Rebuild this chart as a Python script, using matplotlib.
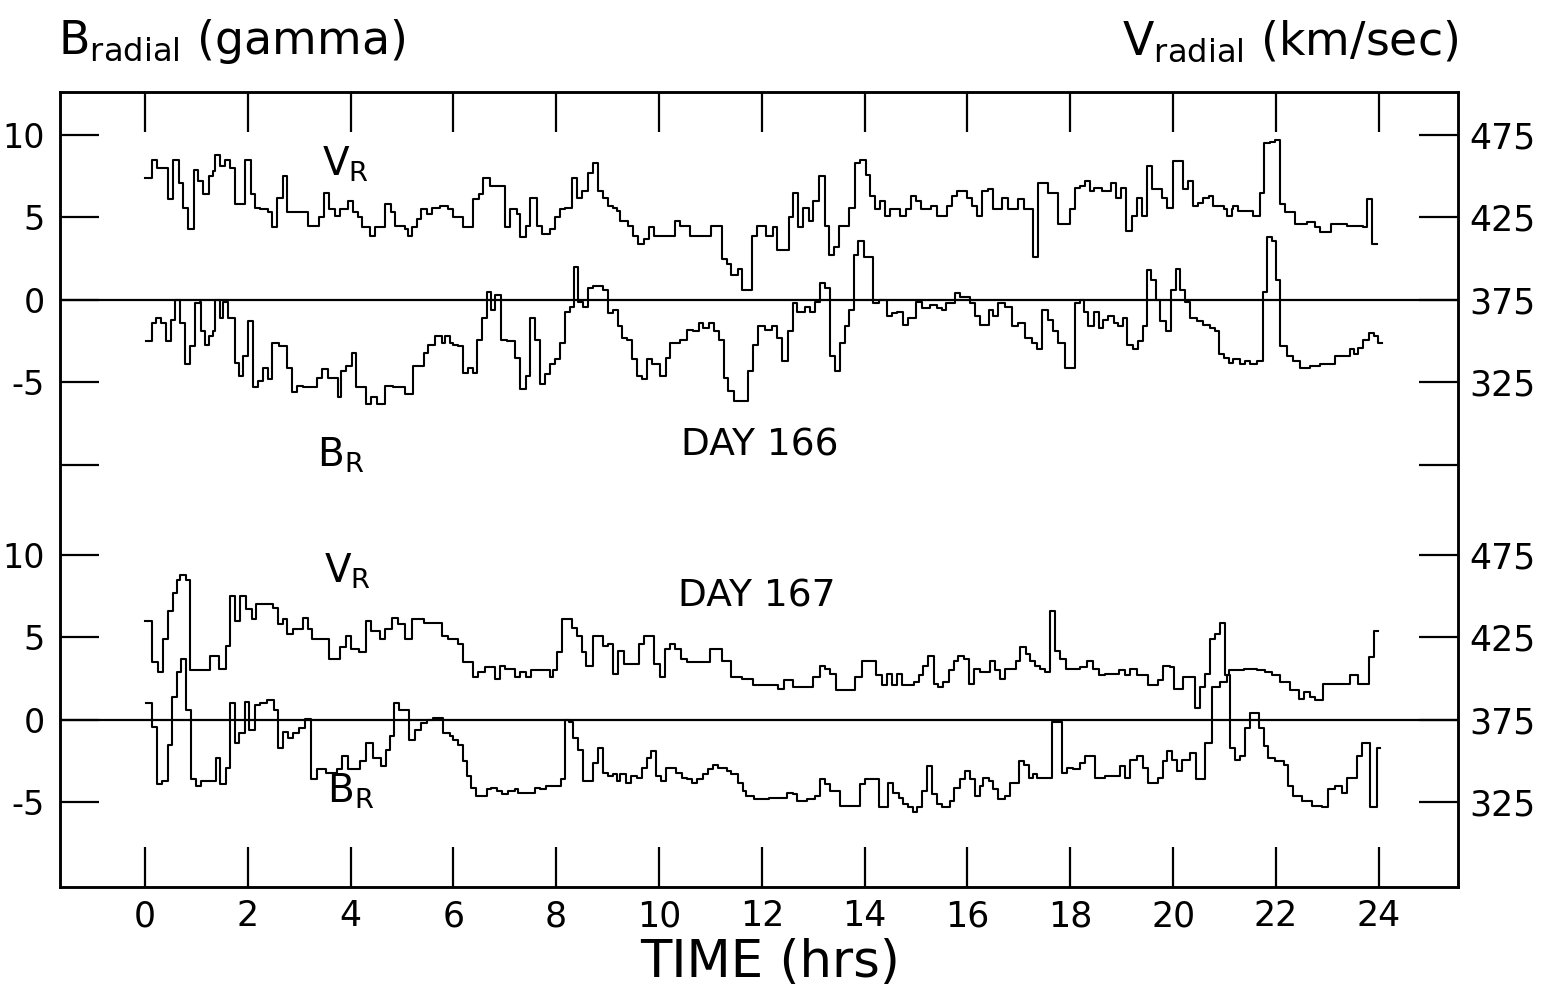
import matplotlib.pyplot as plt

# ---- DAY 166 (upper panel) ----
t_v166 = [0.0, 0.14, 0.24, 0.45, 0.55, 0.67, 0.75, 0.84, 0.95, 1.04, 1.13, 1.25, 1.32, 1.36, 1.46, 1.56,
          1.65, 1.75, 1.95, 2.06, 2.14, 2.24, 2.40, 2.48, 2.57, 2.68, 2.77, 3.18, 3.39, 3.48, 3.59, 3.70,
          3.79, 3.96, 4.05, 4.15, 4.22, 4.38, 4.47, 4.68, 4.78, 4.86, 5.06, 5.12, 5.19, 5.29, 5.38, 5.48,
          5.58, 5.74, 5.90,
          6.0, 6.19, 6.39, 6.50, 6.58, 6.71, 7.0, 7.1, 7.23, 7.29, 7.41, 7.49, 7.62, 7.72, 7.88, 7.98,
          8.07, 8.17, 8.3, 8.4, 8.51, 8.62, 8.72, 8.82, 8.92, 9.01, 9.1, 9.18, 9.24, 9.4, 9.5, 9.6,
          9.7, 9.81, 9.9, 10.31, 10.41, 10.6, 11.02, 11.22, 11.32, 11.41, 11.53, 11.61, 11.8, 11.9,
          11.97, 12.09, 12.21, 12.30, 12.52, 12.6, 12.71, 12.81, 12.91, 13.0, 13.12, 13.22, 13.31, 13.41,
          13.5, 13.7, 13.81, 13.91, 14.03, 14.1, 14.2, 14.29, 14.4, 14.49, 14.69, 14.81, 14.9, 15.0,
          15.1, 15.29, 15.4, 15.6, 15.69, 15.8, 15.99, 16.08, 16.19, 16.28, 16.39, 16.49, 16.67, 16.78,
          16.99, 17.09, 17.28, 17.38, 17.57, 17.77, 17.99, 18.09,
          18.19, 18.29, 18.38, 18.46, 18.61, 18.79, 18.89, 18.98, 19.08, 19.19, 19.29, 19.39, 19.49, 19.58,
          19.78, 19.89, 19.99, 20.19, 20.28, 20.38, 20.49, 20.59, 20.69, 20.78, 20.98, 21.04, 21.14, 21.17,
          21.27, 21.56, 21.68, 21.77, 21.89, 21.98, 22.08, 22.18, 22.37, 22.6, 22.76, 22.86, 23.07, 23.38,
          23.69, 23.77, 23.86, 23.96]
v166 = [449, 460, 455, 436, 460, 446, 431, 418, 454, 447, 439, 450, 453, 463, 456, 460,
        455, 433, 460, 439, 431, 430, 428, 419, 437, 450, 428, 420, 425, 440, 430, 426,
        430, 435, 428, 425, 419, 414, 419, 433, 428, 420, 418, 414, 419, 424, 430, 427,
        431, 432, 430,
        425, 419, 436, 439, 449, 444, 419, 430, 427, 413, 420, 437, 420, 415, 418, 425,
        430, 431, 449, 437, 441, 452, 458, 441, 437, 432, 431, 429, 423, 420, 414, 409,
        412, 419, 414, 423, 420, 414, 420, 400, 397, 390, 394, 381, 414, 420,
        420, 414, 419, 405, 425, 440, 419, 431, 423, 435, 450, 420, 402, 407,
        420, 431, 458, 460, 451, 438, 430, 435, 426, 430, 426, 430, 438, 435,
        430, 432, 426, 432, 438, 441, 437, 432, 426, 441, 442, 430, 437, 430,
        436, 430, 401, 446, 440, 421, 430, 443,
        444, 447, 441, 443, 441, 446, 437, 443, 417, 426, 437, 426, 456, 442,
        437, 431, 459, 442, 447, 432, 434, 437, 438, 432, 430, 426, 430, 432,
        429, 426, 440, 470, 471, 472, 433, 428, 421, 422, 419, 416, 421, 420,
        419, 436, 409, 409]

t_b166 = [0.03, 0.13, 0.21, 0.31, 0.42, 0.50, 0.58, 0.68, 0.78, 0.88, 0.97, 1.07, 1.10, 1.17, 1.25, 1.32,
          1.36, 1.46, 1.52, 1.62, 1.75, 1.84, 1.91, 2.01, 2.11, 2.20, 2.30, 2.39, 2.48, 2.61, 2.76, 2.87,
          2.95, 3.07, 3.34, 3.44, 3.57, 3.76, 3.81, 3.92, 4.02, 4.11, 4.30, 4.39, 4.51, 4.67, 4.83, 5.06,
          5.22, 5.43, 5.51, 5.64, 5.77, 5.84, 5.93,
          6.0, 6.1, 6.18, 6.29, 6.39, 6.47, 6.55, 6.65, 6.74, 6.81, 6.93, 7.04, 7.2, 7.29, 7.41, 7.49,
          7.59, 7.68, 7.78, 7.88, 7.98, 8.07, 8.17, 8.27, 8.35, 8.43, 8.53, 8.62, 8.72, 8.92, 9.01, 9.11,
          9.21, 9.29, 9.37, 9.47, 9.57, 9.66, 9.76, 9.86, 10.02, 10.14, 10.21, 10.41, 10.54, 10.67, 10.78,
          10.86, 10.98, 11.07, 11.17, 11.26, 11.35, 11.45, 11.74, 11.83, 11.93,
          11.97, 12.06, 12.19, 12.29, 12.39, 12.5, 12.6, 12.68, 12.84, 12.94, 13.03, 13.13, 13.23, 13.33,
          13.42, 13.52, 13.62, 13.7, 13.8, 13.88, 13.98, 14.17, 14.27, 14.43, 14.53, 14.62, 14.75, 14.85,
          15.0, 15.11, 15.27, 15.4, 15.5, 15.58, 15.76, 15.86, 16.05, 16.15, 16.25, 16.41, 16.5, 16.6,
          16.73, 16.86, 16.99, 17.12, 17.25, 17.35, 17.44, 17.57, 17.67, 17.77, 17.9, 18.09,
          18.19, 18.27, 18.35, 18.46, 18.55, 18.64, 18.74, 18.84, 18.92, 19.02, 19.11, 19.21, 19.31, 19.41,
          19.49, 19.57, 19.67, 19.75, 19.86, 19.95, 20.06, 20.14, 20.23, 20.33, 20.46, 20.59, 20.72, 20.82,
          20.9, 20.99, 21.08, 21.17, 21.3, 21.4, 21.5, 21.63, 21.74, 21.82, 21.92, 22.0, 22.08, 22.21,
          22.34, 22.47, 22.66, 22.86, 23.15, 23.43, 23.51, 23.6, 23.7, 23.8, 23.9, 23.99, 24.06]
b166 = [-2.5, -1.4, -1.1, -1.4, -2.5, -1.2, 0.0, -1.4, -3.9, -2.8, -0.2, -0.1, -1.9, -2.7, -2.2, -1.9,
        0.0, -1.1, -0.1, -1.1, -3.8, -4.6, -3.4, -1.3, -5.3, -4.9, -4.1, -4.8, -2.6, -2.8, -4.1, -5.6,
        -5.2, -5.3, -4.7, -4.2, -4.7, -5.9, -4.3, -4.0, -3.2, -5.3, -6.3, -5.9, -6.3, -5.2, -5.3, -5.7,
        -4.0, -3.2, -2.7, -2.2, -2.6, -2.2, -2.6,
        -2.7, -2.8, -4.4, -4.1, -4.4, -2.4, -1.1, 0.5, -0.6, 0.3, -2.4, -2.5, -3.5, -5.4, -4.6, -1.1,
        -2.4, -5.1, -4.5, -3.9, -3.6, -2.6, -0.7, -0.4, 2.0, -0.1, -0.4, 0.7, 0.85, 0.6, -0.8, -0.6,
        -1.6, -2.3, -2.4, -3.6, -4.6, -4.8, -3.6, -3.9, -4.6, -3.5, -2.6, -2.4, -1.8, -1.9, -1.4,
        -1.7, -1.4, -1.9, -2.4, -4.7, -5.5, -6.1, -4.3, -2.7, -1.6,
        -1.6, -1.8, -1.6, -2.3, -3.7, -1.9, -0.2, -0.7, -0.4, -0.7, -0.1, 1.0, 0.7, -3.4,
        -4.3, -2.6, -1.6, -0.6, 2.7, 3.6, 2.6, -0.2, 0.0, -1.0, -0.8, -0.7, -1.5, -1.1,
        -0.1, -0.5, -0.3, -0.5, -0.6, -0.2, 0.4, 0.2, -0.2, -1.0, -1.5, -0.6, -1.0, -0.2,
        -0.4, -1.6, -1.4, -2.3, -2.6, -3.0, -0.6, -1.2, -1.9, -2.6, -4.1, -0.2,
        0.0, -0.7, -1.6, -0.7, -1.7, -1.2, -1.0, -1.4, -1.6, -1.1, -2.7, -3.0, -2.5, -1.6,
        1.8, 1.2, 0.0, -1.3, -1.9, 0.6, 1.9, 0.6, -0.1, -1.1, -1.3, -1.5, -1.7, -1.9,
        -3.3, -3.5, -3.8, -3.6, -3.9, -3.7, -3.9, -3.7, 0.5, 3.8, 3.6, 1.2, -2.8, -3.4,
        -3.7, -4.1, -4.0, -3.9, -3.4, -3.0, -3.3, -2.9, -2.4, -2.0, -2.2, -2.6, -2.6]

# ---- DAY 167 (lower panel) ----
t_v167 = [0.0, 0.13, 0.26, 0.36, 0.45, 0.54, 0.62, 0.69, 0.8, 0.88, 1.26, 1.45, 1.58, 1.65, 1.75, 1.85,
          1.96, 2.08, 2.17, 2.5, 2.59, 2.68, 2.76, 2.89, 3.07, 3.18, 3.26, 3.59, 3.79, 3.91, 4.0, 4.17,
          4.3, 4.39, 4.57, 4.67, 4.8, 4.93, 5.06, 5.19, 5.42, 5.77, 5.9,
          6.0, 6.1, 6.19, 6.39, 6.48, 6.61, 6.81, 6.91, 7.0, 7.2, 7.29, 7.42, 7.52, 7.88, 7.94, 8.01,
          8.11, 8.3, 8.4, 8.51, 8.59, 8.71, 8.92, 9.01, 9.1, 9.21, 9.31, 9.62, 9.71, 9.9, 10.02, 10.12,
          10.21, 10.31, 10.42, 10.54, 10.99, 11.22, 11.41, 11.61, 11.83,
          11.97, 12.32, 12.43, 12.61, 13.0, 13.13, 13.23, 13.33, 13.44, 13.81, 13.94, 14.23, 14.33, 14.43,
          14.53, 14.62, 14.72, 14.95, 15.05, 15.14, 15.24, 15.34, 15.43, 15.53, 15.65, 15.73, 15.82, 15.93,
          16.02, 16.12, 16.25, 16.44, 16.54, 16.63, 16.73, 16.95, 17.02, 17.14, 17.22, 17.32, 17.41, 17.51,
          17.61, 17.7, 17.8, 17.92,
          18.19, 18.32, 18.44, 18.55, 18.68, 18.94, 19.07, 19.16, 19.29, 19.52, 19.71, 19.81, 19.93, 20.02,
          20.2, 20.43, 20.52, 20.62, 20.71, 20.82, 20.91, 21.01, 21.08, 21.37, 21.63, 21.79, 21.92, 22.08,
          22.28, 22.44, 22.54, 22.66, 22.76, 22.92, 23.12, 23.44, 23.6, 23.8, 23.9, 23.99]
v167 = [435, 410, 404, 424, 441, 452, 460, 463, 460, 405, 414, 406, 420, 450, 435, 450,
        442, 436, 445, 443, 433, 436, 427, 430, 437, 430, 424, 412, 419, 426, 418, 416,
        435, 429, 424, 430, 437, 433, 424, 436, 434, 426, 424,
        424, 421, 410, 401, 404, 407, 400, 408, 406, 401, 404, 401, 405, 401, 405, 416,
        436, 431, 426, 416, 408, 426, 420, 421, 403, 417, 409, 421, 426, 409, 401, 418,
        421, 418, 412, 410, 418, 411, 401, 400, 396,
        396, 394, 399, 395, 401, 408, 406, 403, 393, 401, 411, 402, 396, 403,
        396, 403, 396, 398, 402, 408, 414, 397, 395, 398, 405, 411, 414, 412,
        397, 406, 404, 411, 405, 400, 406, 411, 419, 415, 411, 408, 406, 404,
        441, 417, 412, 406,
        407, 411, 406, 402, 403, 405, 402, 406, 402, 396, 399, 408, 407, 394,
        401, 382, 395, 403, 424, 427, 434, 402, 405, 406, 405, 404, 402, 398,
        393, 388, 392, 389, 387, 397, 397, 402, 397, 413, 429, 429]

t_b167 = [0.03, 0.13, 0.24, 0.34, 0.45, 0.52, 0.63, 0.71, 0.81, 0.89, 0.99, 1.1, 1.38, 1.46, 1.58, 1.65,
          1.75, 1.84, 1.95, 2.03, 2.14, 2.24, 2.37, 2.51, 2.59, 2.69, 2.79, 2.89, 3.0, 3.11, 3.24, 3.34,
          3.53, 3.73, 3.83, 3.96, 4.18, 4.3, 4.44, 4.6, 4.7, 4.77, 4.84, 4.95, 5.14, 5.25, 5.38, 5.48,
          5.61, 5.8, 5.93,
          6.0, 6.1, 6.18, 6.27, 6.35, 6.45, 6.65, 6.74, 6.84, 6.94, 7.07, 7.2, 7.26, 7.59, 7.68, 7.8,
          8.09, 8.17, 8.24, 8.33, 8.43, 8.53, 8.72, 8.82, 8.92, 9.01, 9.11, 9.18, 9.24, 9.36, 9.45, 9.57,
          9.66, 9.76, 9.84, 9.94, 10.03, 10.14, 10.34, 10.44, 10.54, 10.64, 10.73, 10.86, 10.96, 11.06,
          11.15, 11.32, 11.41, 11.54, 11.64, 11.7, 11.84,
          11.97, 12.13, 12.48, 12.61, 12.68, 12.87, 13.03, 13.13, 13.23, 13.33, 13.52, 13.91, 14.01, 14.27,
          14.46, 14.56, 14.66, 14.75, 14.85, 14.94, 15.01, 15.11, 15.21, 15.3, 15.4, 15.5, 15.66, 15.73,
          15.86, 15.95, 16.04, 16.15, 16.25, 16.31, 16.41, 16.5, 16.6, 16.73, 16.83, 17.01, 17.09, 17.19,
          17.27, 17.35, 17.64, 17.83, 17.93, 18.06, 18.19,
          18.29, 18.48, 18.68, 18.97, 19.07, 19.16, 19.29, 19.42, 19.52, 19.71, 19.8, 19.89, 19.97, 20.08,
          20.17, 20.33, 20.45, 20.62, 20.75, 20.91, 21.04, 21.11, 21.21, 21.3, 21.4, 21.5, 21.66, 21.76,
          21.85, 21.98, 22.15, 22.24, 22.34, 22.5, 22.7, 22.89, 23.02, 23.15, 23.28, 23.38, 23.57, 23.67,
          23.83, 23.96, 24.03]
b167 = [1.0, -0.4, -3.9, -3.7, -1.5, 1.4, 2.9, 3.7, 0.6, -3.6, -4.0, -3.7, -2.3, -3.9, -2.9, 1.0,
        -1.4, -0.8, 1.1, -0.6, 0.9, 1.05, 1.2, 0.6, -1.7, -0.7, -1.1, -0.8, -0.5, 0.05, -3.6, -3.0,
        -3.2, -3.0, -2.2, -3.0, -2.5, -1.4, -2.3, -2.8, -1.8, -1.0, 1.0, 0.6, -1.2, -0.6, -0.2, 0.0,
        0.1, -0.8, -1.0,
        -1.2, -1.5, -2.5, -3.4, -4.1, -4.6, -4.2, -4.1, -4.3, -4.5, -4.3, -4.2, -4.4, -4.1, -4.2, -4.0,
        -3.6, 0.0, -0.1, -1.1, -1.8, -3.7, -2.6, -1.7, -3.2, -3.4, -3.3, -3.7, -3.3, -3.8, -3.4, -3.5,
        -2.9, -2.3, -1.9, -3.4, -3.7, -2.9, -3.2, -3.5, -3.6, -3.8, -3.6, -3.3, -3.0, -2.7,
        -2.9, -3.1, -3.3, -3.8, -4.3, -4.6, -4.8,
        -4.8, -4.7, -4.4, -4.5, -4.9, -4.8, -4.6, -3.6, -3.9, -4.3, -5.2, -3.9, -3.6, -5.3,
        -3.8, -4.4, -4.7, -5.1, -5.3, -5.6, -5.3, -4.3, -2.8, -4.5, -5.1, -5.3, -4.9, -4.1,
        -3.6, -3.1, -3.6, -4.6, -4.0, -3.5, -3.7, -4.2, -4.8, -4.6, -3.8, -2.5, -2.7, -3.5,
        -3.3, -3.5, -0.1, -3.2, -2.9, -3.0, -2.6,
        -2.2, -3.5, -3.4, -2.8, -3.5, -2.4, -2.2, -2.9, -3.8, -3.5, -2.5, -1.9, -2.4, -3.1,
        -2.4, -2.0, -3.6, -1.4, 2.0, 2.3, 2.7, -1.7, -2.4, -2.2, -0.5, 0.4, -0.5, -1.6,
        -2.3, -2.5, -2.7, -4.0, -4.6, -4.9, -5.2, -5.3, -4.2, -4.0, -4.4, -3.5, -2.2, -1.4,
        -5.3, -1.7, -1.7]

hour_ticks = list(range(0, 25, 2))
b_ticks = [10, 5, 0, -5]
v_labels = ['475', '425', '375', '325']

UPPER = 25.45  # upper panel drawn 25.45 gamma above the lower one


def v_to_b(v, shift):
    # 10 km/sec per gamma, 375 km/sec on the zero line
    return [(x - 375) / 10 + shift for x in v]


fig = plt.figure(figsize=(15.51, 9.91), dpi=100)
ax = fig.add_axes([60 / 1551, 1 - 887 / 991, (1458 - 60) / 1551, (887 - 92) / 991])

kw = dict(where='post', color='black', lw=1.5)
ax.step(t_v166, v_to_b(v166, UPPER), **kw)
ax.step(t_b166, [b + UPPER for b in b166], **kw)
ax.step(t_v167, v_to_b(v167, 0), **kw)
ax.step(t_b167, b167, **kw)

ax.axhline(UPPER, color='black', lw=1.6)
ax.axhline(0, color='black', lw=1.6)

ax.set_xlim(-1.65, 25.54)
ax.set_ylim(-10.12, 38.05)

yt = [b + UPPER for b in b_ticks] + [UPPER - 10] + b_ticks
ax.set_yticks(yt)
ax.set_yticklabels([str(b) for b in b_ticks] + [''] + [str(b) for b in b_ticks])
ax.set_xticks(hour_ticks)
ax.set_xticklabels([str(h) for h in hour_ticks])
ax.tick_params(axis='y', direction='in', length=28, width=1.6, labelsize=24, pad=11)
ax.tick_params(axis='x', direction='in', length=29, width=1.6, labelsize=25, pad=9,
               top=True, labeltop=False)

ax2 = ax.twinx()
ax2.set_ylim(ax.get_ylim())
ax2.set_yticks(yt)
ax2.set_yticklabels(v_labels + [''] + v_labels)
ax2.tick_params(axis='y', direction='in', length=28, width=1.6, labelsize=25, pad=8)

for a in (ax, ax2):
    for s in a.spines.values():
        s.set_linewidth(1.8)

ax.text(3.9, UPPER + 8.2, r'V$_\mathrm{R}$', fontsize=28, ha='center', va='center')
ax.text(3.8, UPPER - 9.4, r'B$_\mathrm{R}$', fontsize=28, ha='center', va='center')
ax.text(11.95, UPPER - 8.8, 'DAY 166', fontsize=27, ha='center', va='center')
ax.text(3.95, 9.0, r'V$_\mathrm{R}$', fontsize=28, ha='center', va='center')
ax.text(11.9, 7.5, 'DAY 167', fontsize=27, ha='center', va='center')
ax.text(4.0, -4.3, r'B$_\mathrm{R}$', fontsize=28, ha='center', va='center')

fig.text(58 / 1551, 1 - 42 / 991, r'B$_\mathrm{radial}$ (gamma)', fontsize=33, ha='left', va='center')
fig.text(1458 / 1551, 1 - 42 / 991, r'V$_\mathrm{radial}$ (km/sec)', fontsize=33, ha='right', va='center')
fig.text(770 / 1551, 1 - 963 / 991, 'TIME (hrs)', fontsize=37, ha='center', va='center')

fig.savefig('out.png', dpi=100)
